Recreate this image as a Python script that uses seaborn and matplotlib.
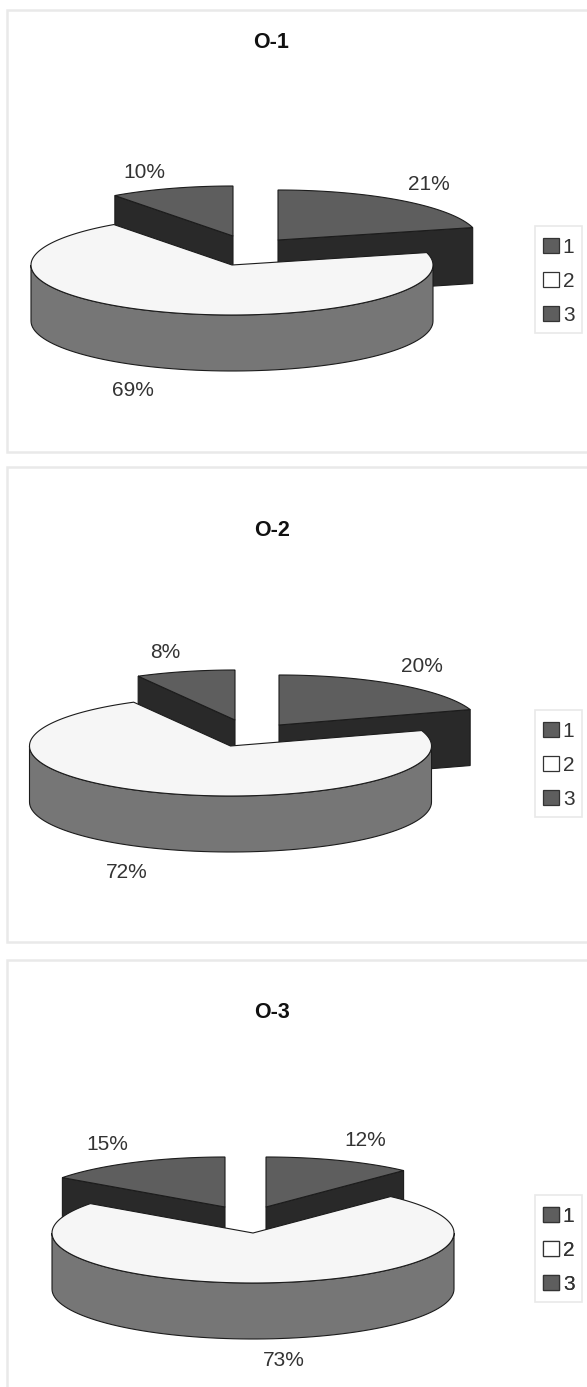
import numpy as np
import matplotlib
matplotlib.use("Agg")
import matplotlib.pyplot as plt
from matplotlib.patches import Polygon, Patch, Rectangle
import seaborn as sns

# Series shares, in percent, for slices 1, 2 and 3
titles = ["O-1", "O-2", "O-3"]
categories = ["1", "2", "3"]
o1_values = [21, 69, 10]
o2_values = [20, 72, 8]
o3_values = [12, 73, 15]
series = [o1_values, o2_values, o3_values]

sns.set_theme(style="white")
plt.rcParams["font.family"] = ["Liberation Sans", "DejaVu Sans"]

W, H = 587, 1387
RX, RY, DEPTH = 201, 50, 56

TOP_COL = "#5e5e5e"
CUT_COL = "#292929"
LIGHT_COL = "#f6f6f6"
RIM_COL = "#767676"
EDGE = "#1c1c1c"
TEXT = "#333333"
FRAME = "#e9e9e9"

# Pixel layout of each panel: slice apexes, frame, title, labels, legend
panels = [
    dict(apex=[(278, 240), (232, 265), (233, 236)], frame=(7, 10, 452),
         title=(271, 42), labels=[(429, 184), (133, 391), (144, 172)],
         legend_top=226),
    dict(apex=[(279, 725), (230.5, 746), (235, 720)], frame=(7, 467, 942),
         title=(272, 530), labels=[(422, 667), (127, 872), (165, 652)],
         legend_top=710),
    dict(apex=[(266, 1207), (253, 1233), (225, 1207)], frame=(7, 960, 1392),
         title=(272, 1013), labels=[(365, 1141), (284, 1361), (107, 1144)],
         legend_top=1195),
]

fig = plt.figure(figsize=(W / 100, H / 100), dpi=100)
ax = fig.add_axes([0, 0, 1, 1])
ax.set_xlim(0, W)
ax.set_ylim(H, 0)
ax.set_axis_off()


def rim_point(apex, deg):
    t = np.radians(deg)
    return apex[0] + RX * np.sin(t), apex[1] - RY * np.cos(t)


def draw_cut_face(apex, ang, z):
    # Flat radial face seen from the front, extruded downward
    p = rim_point(apex, ang)
    face = [apex, p, (p[0], p[1] + DEPTH), (apex[0], apex[1] + DEPTH)]
    ax.add_patch(Polygon(face, fc=CUT_COL, ec=EDGE, lw=0.8, zorder=z))


def draw_slice(apex, start, end, top_col, z):
    # Rounded outer wall on the near side of the pie
    lo, hi = max(start, 90), min(end, 270)
    if hi > lo:
        arc = [rim_point(apex, a) for a in np.linspace(lo, hi, 80)]
        wall = arc + [(x, y + DEPTH) for x, y in arc[::-1]]
        ax.add_patch(Polygon(wall, fc=RIM_COL, ec=EDGE, lw=0.8, zorder=z))
    # Top surface
    outline = [apex] + [rim_point(apex, a) for a in np.linspace(start, end, 160)]
    ax.add_patch(Polygon(outline, fc=top_col, ec=EDGE, lw=0.8, zorder=z + 0.5))


for values, title, pn in zip(series, titles, panels):
    x0, top, bottom = pn["frame"]
    ax.add_patch(Rectangle((x0, top), W + 20 - x0, bottom - top, fc="white",
                           ec=FRAME, lw=1.8, zorder=0))

    a1 = values[0] * 3.6
    a2 = a1 + values[1] * 3.6
    # Rear slices first, the large front slice last
    draw_cut_face(pn["apex"][2], a2, 1)
    draw_slice(pn["apex"][2], a2, 360, TOP_COL, 1)
    draw_cut_face(pn["apex"][0], a1, 2)
    draw_slice(pn["apex"][0], 0, a1, TOP_COL, 2)
    draw_slice(pn["apex"][1], a1, a2, LIGHT_COL, 3)

    ax.text(*pn["title"], title, ha="center", va="center", fontsize=15.5,
            fontweight="bold", color="#111111", zorder=5)
    for v, pos in zip(values, pn["labels"]):
        ax.text(*pos, f"{v}%", ha="center", va="center", fontsize=15,
                color=TEXT, zorder=5)

    # Legend box sits apart from the entries so its height can stay fixed
    ltop = pn["legend_top"]
    ax.add_patch(Rectangle((535, ltop), 47, 107, fc="white", ec=FRAME, lw=1.2,
                           zorder=5))
    handles = [Patch(fc=c, ec="#333333", lw=0.9, label=lab) for c, lab in
               zip([TOP_COL, "white", TOP_COL], categories)]
    leg = ax.legend(handles=handles, loc="upper left",
                    bbox_to_anchor=(543, ltop + 12),
                    bbox_transform=ax.transData, fontsize=15,
                    frameon=False, handlelength=0.75, handleheight=0.75,
                    handletextpad=0.2, labelspacing=0.72, borderpad=0,
                    borderaxespad=0, labelcolor=TEXT)
    leg.set_zorder(6)
    ax.add_artist(leg)

fig.savefig("out.png", dpi=100, facecolor="white")
